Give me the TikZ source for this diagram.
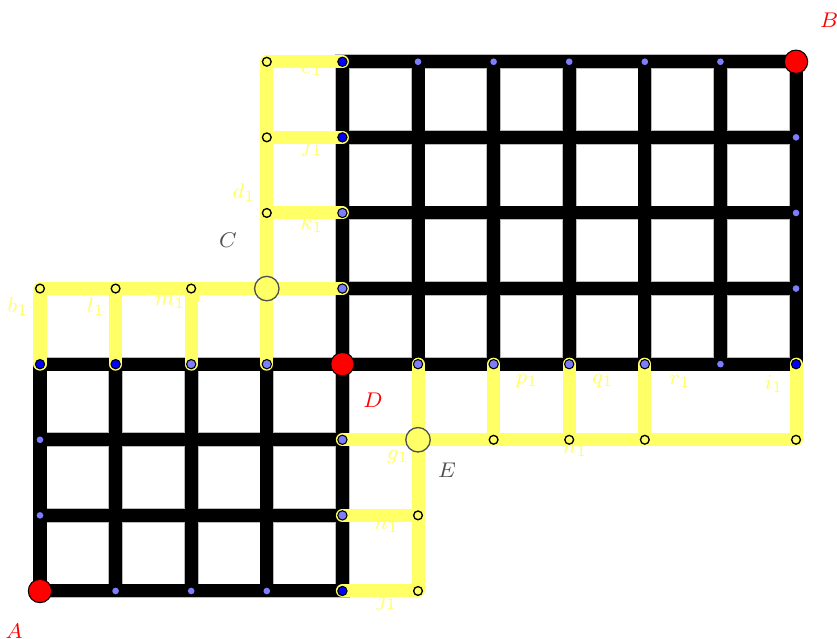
\documentclass[tikz,border=0pt]{standalone}
\usepackage{tikz}
\usepackage{xcolor}
\usetikzlibrary{calc}

\definecolor{pathyellow}{RGB}{255,255,102}
\definecolor{darkblue}{RGB}{0,0,255}
\definecolor{paleblue}{RGB}{125,125,255}
\definecolor{labelgray}{RGB}{80,80,80}

\tikzset{
  gridedge/.style={line width=5.5pt, gray!55, line cap=rect},
  gridline/.style={line width=4.9pt, black, line cap=rect},
  yellowpath/.style={line width=4.9pt, pathyellow, line cap=round, line join=round},
  opendot/.style={circle, draw=black, line width=0.5pt, fill=pathyellow, inner sep=0pt, minimum size=3.3pt},
  bigopen/.style={circle, draw=labelgray, line width=0.5pt, fill=pathyellow, inner sep=0pt, minimum size=9.2pt},
  reddot/.style={circle, draw=black, line width=0.4pt, fill=red, inner sep=0pt, minimum size=8.8pt},
  bluedot/.style={circle, draw=black, line width=0.4pt, fill=#1, inner sep=0pt, minimum size=3.5pt},
  smalldot/.style={circle, fill=paleblue, inner sep=0pt, minimum size=2.5pt},
  yl/.style={text=pathyellow, font=\footnotesize},
  rl/.style={text=red, font=\footnotesize},
  gl/.style={text=labelgray, font=\footnotesize}
}

\begin{document}
\begin{tikzpicture}[x=1cm, y=1cm]
  \useasboundingbox (-0.529,-0.635) rectangle (10.542,7.817);

  % lattice points
  \foreach \i in {0,...,10}
    \foreach \j in {0,...,7}
      \coordinate (g-\i-\j) at (\i,\j);

  % black grid, two blocks
  \foreach \s in {gridedge,gridline}{
    \foreach \j in {0,...,2} \draw[\s] (g-0-\j) -- (g-4-\j);
    \draw[\s] (g-0-3) -- (g-10-3);
    \foreach \i in {0,...,3} \draw[\s] (g-\i-0) -- (g-\i-3);
    \draw[\s] (g-4-0) -- (g-4-7);
    \foreach \j in {4,...,7} \draw[\s] (g-4-\j) -- (g-10-\j);
    \foreach \i in {5,...,10} \draw[\s] (g-\i-3) -- (g-\i-7);
  }

  % labels (under the yellow paths)
  \node[yl] (le) at (3.598,6.892) {$e_1$};
  \node[yl] (lf) at (3.598,5.873) {$f_1$};
  \node[yl] (lk) at (3.598,4.854) {$k_1$};
  \node[yl] (ld) at (2.698,5.265) {$d_1$};
  \node[yl] (lb) at (-0.291,3.757) {$b_1$};
  \node[yl] (ll) at (0.741,3.757) {$l_1$};
  \node[yl] (lm) at (1.720,3.823) {$m_1$};
  \node[yl] (lc) at (2.040,3.890) {$c_1$};
  \node[yl] (lg) at (4.735,1.772) {$g_1$};
  \node[yl] (lh) at (4.590,0.886) {$h_1$};
  \node[yl] (lj) at (4.590,-0.146) {$j_1$};
  \node[yl] (ln) at (7.077,1.865) {$n_1$};
  \node[yl] (lp) at (6.442,2.778) {$p_1$};
  \node[yl] (lq) at (7.447,2.778) {$q_1$};
  \node[yl] (lr) at (8.466,2.778) {$r_1$};
  \node[yl] (li) at (9.709,2.738) {$i_1$};

  % yellow paths
  \draw[yellowpath] (g-4-7) -- (g-3-7) -- (g-3-3);
  \draw[yellowpath] (g-3-6) -- (g-4-6);
  \draw[yellowpath] (g-3-5) -- (g-4-5);
  \draw[yellowpath] (g-0-3) -- (g-0-4) -- (g-4-4);
  \draw[yellowpath] (g-1-3) -- (g-1-4);
  \draw[yellowpath] (g-2-3) -- (g-2-4);
  \draw[yellowpath] (g-4-2) -- (g-10-2) -- (g-10-3);
  \draw[yellowpath] (g-5-3) -- (g-5-0) -- (g-4-0);
  \draw[yellowpath] (g-4-1) -- (g-5-1);
  \foreach \i in {6,7,8}
    \draw[yellowpath] (g-\i-3) -- (g-\i-2);

  % points
  \foreach \p in {0-1,0-2,1-0,2-0,3-0,5-7,6-7,7-7,8-7,9-7,10-6,10-5,10-4,9-3}
    \node[smalldot] (s-\p) at (g-\p) {};
  \foreach \p in {4-7,4-6,0-3,1-3,4-0,10-3}
    \node[bluedot=darkblue] (b-\p) at (g-\p) {};
  \foreach \p in {4-5,4-4,2-3,3-3,4-2,4-1,5-3,6-3,7-3,8-3}
    \node[bluedot=paleblue] (b-\p) at (g-\p) {};
  \foreach \p in {3-7,3-6,3-5,0-4,1-4,2-4,6-2,7-2,8-2,10-2,5-1,5-0}
    \node[opendot] (o-\p) at (g-\p) {};
  \node[bigopen] (C) at (g-3-4) {};
  \node[bigopen] (E) at (g-5-2) {};
  \node[reddot] (A) at (g-0-0) {};
  \node[reddot] (D) at (g-4-3) {};
  \node[reddot] (B) at (g-10-7) {};

  \node[rl] (lA) at (-0.344,-0.529) {$A$};
  \node[rl] (lB) at (10.437,7.553) {$B$};
  \node[rl] (lD) at (4.405,2.526) {$D$};
  \node[gl] (lC) at (2.487,4.643) {$C$};
  \node[gl] (lE) at (5.384,1.601) {$E$};
\end{tikzpicture}
\end{document}
